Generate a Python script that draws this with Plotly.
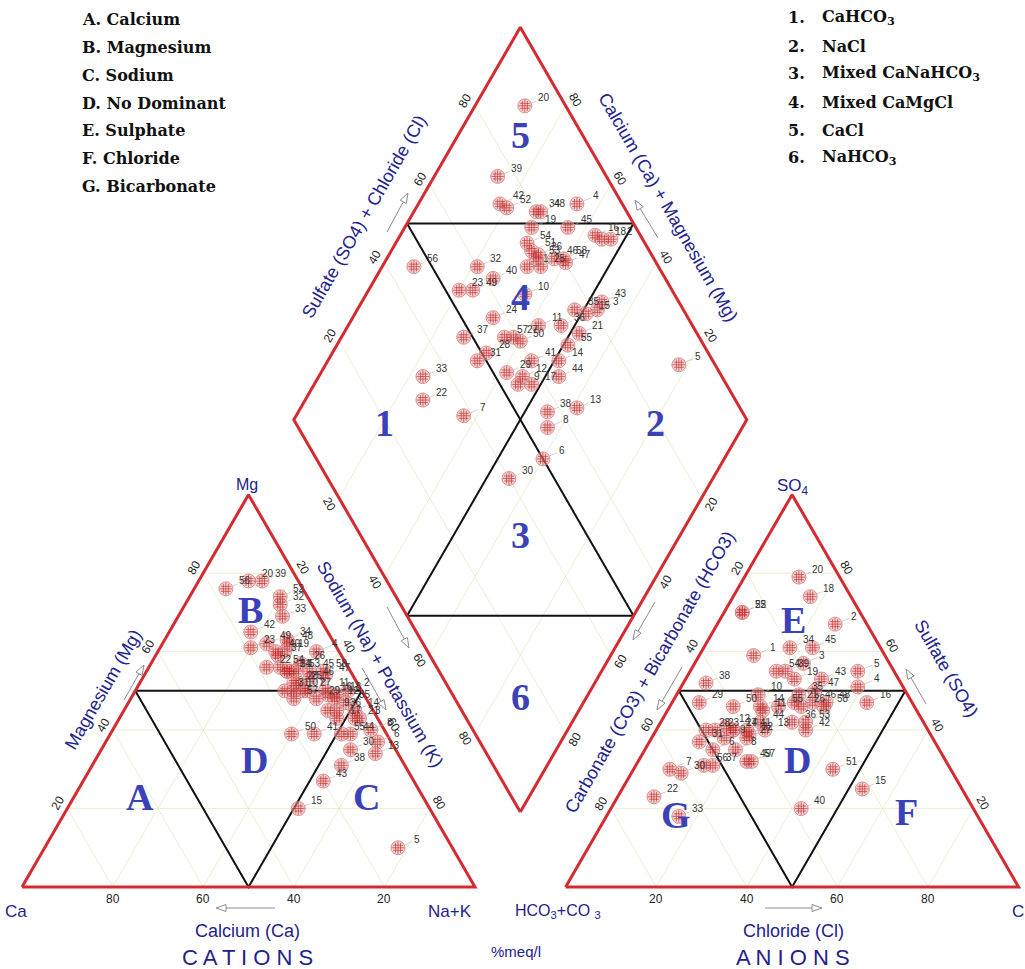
import numpy as np
import plotly.graph_objects as go

# ---------------------------------------------------------------- data (% meq/l)
sample_id = list(range(1, 59))

ca = [13, 3, 4, 5, 12, 3, 13, 3, 10, 15, 8, 7, 5, 4, 29, 8, 9, 6, 12, 11,
      5, 18, 19, 14, 13, 10, 12, 14, 11, 10, 17, 7, 8, 10, 5, 8, 14, 14, 8, 14,
      16, 17, 20, 8, 9, 10, 6, 10, 15, 21, 14, 6, 12, 15, 10, 17, 16, 6]
mg = [55, 50, 43, 60, 10, 37, 50, 40, 45, 50, 50, 48, 34, 45, 20, 49, 43, 49, 60, 78,
      43, 56, 61, 55, 52, 57, 50, 52, 48, 35, 50, 72, 69, 63, 47, 45, 59, 31, 78, 60,
      39, 65, 27, 39, 55, 53, 54, 62, 62, 39, 55, 74, 55, 56, 39, 76, 48, 55]
na_k = [32, 47, 53, 35, 78, 60, 37, 57, 45, 35, 42, 45, 61, 51, 51, 43, 48, 45, 28, 11,
        52, 26, 20, 31, 35, 33, 38, 34, 41, 55, 33, 21, 23, 27, 48, 47, 27, 55, 14, 26,
        45, 18, 53, 53, 36, 37, 40, 28, 23, 40, 31, 20, 33, 29, 51, 7, 36, 39]

hco3 = [29, 7, 19, 10, 8, 50, 62, 45, 46, 33, 34, 44, 36, 34, 22, 10, 43, 9, 23, 9,
        26, 69, 47, 43, 26, 25, 41, 49, 47, 60, 52, 40, 66, 20, 24, 29, 52, 43, 24, 38,
        40, 27, 17, 36, 15, 22, 20, 19, 44, 40, 26, 26, 26, 26, 30, 54, 43, 20]
so4 = [59, 67, 57, 51, 55, 35, 30, 35, 38, 49, 45, 41, 40, 46, 25, 47, 40, 74, 53, 79,
       47, 23, 40, 40, 70, 46, 38, 40, 47, 29, 37, 39, 18, 61, 49, 42, 31, 52, 55, 20,
       40, 40, 53, 42, 61, 47, 50, 47, 32, 46, 30, 70, 42, 55, 46, 31, 32, 46]
cl = [12, 26, 24, 39, 37, 15, 8, 20, 16, 18, 21, 15, 24, 20, 53, 43, 17, 17, 24, 12,
      27, 8, 13, 17, 4, 29, 21, 11, 6, 11, 11, 21, 16, 19, 27, 29, 17, 5, 21, 42,
      20, 33, 30, 22, 24, 31, 30, 34, 24, 14, 44, 4, 32, 19, 24, 15, 25, 34]

cation_legend = ["A. Calcium", "B. Magnesium", "C. Sodium", "D. No Dominant",
                 "E. Sulphate", "F. Chloride", "G. Bicarbonate"]
facies_no = ["1.", "2.", "3.", "4.", "5.", "6."]
facies_name = ["CaHCO<sub>3</sub>", "NaCl", "Mixed CaNaHCO<sub>3</sub>",
               "Mixed CaMgCl", "CaCl", "NaHCO<sub>3</sub>"]
tick_values = [20, 40, 60, 80]

# ---------------------------------------------------------------- geometry
W, H = 1025, 969
S = 453.0                 # pixels per unit triangle side
X0, Y0 = 22.0, 887.0      # pixel position of the Ca corner
R3 = np.sqrt(3) / 2
AX = 1.2                  # x of the HCO3 corner of the anion triangle
B = np.array([1.1, 0.1656])  # bottom corner of the diamond
U1 = np.array([-0.5, R3])
U2 = np.array([0.5, R3])

RED = "#d42a30"
NAVY = "#22228c"
LETTER = "#3b42b8"
GRID = "rgba(226,222,180,0.55)"
HATCH = "rgba(190,35,35,0.62)"


def frac(v):
    return np.asarray(v, dtype=float) / 100.0


def cation_xy(mg_, na_):
    m, n = frac(mg_), frac(na_)
    return n + m / 2, m * R3


def anion_xy(so4_, cl_):
    s, c = frac(so4_), frac(cl_)
    return AX + c + s / 2, s * R3


def diamond_xy(camg, so4cl):
    c, a = np.asarray(camg), np.asarray(so4cl)
    return B[0] + 0.5 * (a - c), B[1] + R3 * (a + c)


def pix(px, py):
    return (px - X0) / S, (Y0 - py) / S


def paper(px, py):
    return px / W, 1 - py / H


tot_c = np.asarray(ca) + np.asarray(mg) + np.asarray(na_k)
tot_a = np.asarray(hco3) + np.asarray(so4) + np.asarray(cl)
mg_p = np.asarray(mg) * 100 / tot_c
na_p = np.asarray(na_k) * 100 / tot_c
so4_p = np.asarray(so4) * 100 / tot_a
cl_p = np.asarray(cl) * 100 / tot_a

cx, cy = cation_xy(mg_p, na_p)
axx, ayy = anion_xy(so4_p, cl_p)
dx, dy = diamond_xy(1 - na_p / 100, (so4_p + cl_p) / 100)

fig = go.Figure()


def polyline(points_list, color, width):
    xs, ys = [], []
    for pts in points_list:
        for p in pts:
            xs.append(p[0]); ys.append(p[1])
        xs.append(None); ys.append(None)
    fig.add_trace(go.Scatter(x=xs, y=ys, mode="lines", hoverinfo="skip",
                             line=dict(color=color, width=width)))


# faint 20 % grid
grid = []
for f in [0.2, 0.4, 0.6, 0.8]:
    for ox in (0.0, AX):
        grid.append([(ox + f / 2, f * R3), (ox + 1 - f / 2, f * R3)])
        grid.append([(ox + f, 0), (ox + (1 + f) / 2, (1 - f) * R3)])
        grid.append([(ox + 1 - f, 0), (ox + (1 - f) / 2, (1 - f) * R3)])
    grid.append([tuple(B + f * U1), tuple(B + f * U1 + U2)])
    grid.append([tuple(B + f * U2), tuple(B + f * U2 + U1)])
polyline(grid, GRID, 1)

# inner subdivisions
inner = []
for ox in (0.0, AX):
    inner.append([(ox + 0.25, R3 / 2), (ox + 0.75, R3 / 2)])
    inner.append([(ox + 0.25, R3 / 2), (ox + 0.5, 0), (ox + 0.75, R3 / 2)])
mLT = B + U1 + 0.5 * U2
mTR = B + 0.5 * U1 + U2
mBL = B + 0.5 * U1
mBR = B + 0.5 * U2
inner += [[tuple(mLT), tuple(mTR)], [tuple(mBL), tuple(mBR)],
          [tuple(mLT), tuple(mBR)], [tuple(mTR), tuple(mBL)]]
polyline(inner, "#111111", 2)

# outer frames
frames = [
    [(0, 0), (1, 0), (0.5, R3), (0, 0)],
    [(AX, 0), (AX + 1, 0), (AX + 0.5, R3), (AX, 0)],
    [tuple(B), tuple(B + U1), tuple(B + U1 + U2), tuple(B + U2), tuple(B)],
]
polyline(frames, RED, 3)

# sample markers: pink disc with red cross-hatching
all_x = np.concatenate([cx, axx, dx])
all_y = np.concatenate([cy, ayy, dy])
fig.add_trace(go.Scatter(x=all_x, y=all_y, mode="markers", hoverinfo="skip",
                         marker=dict(symbol="circle", size=14,
                                     color="rgba(238,175,175,0.55)",
                                     line=dict(color="rgba(205,110,110,0.7)", width=1))))
fig.add_trace(go.Scatter(x=all_x, y=all_y, mode="markers", hoverinfo="skip",
                         marker=dict(symbol="hash-open", size=10, color=HATCH,
                                     line=dict(color=HATCH, width=1))))
fig.add_trace(go.Scatter(x=all_x, y=all_y, mode="markers", hoverinfo="skip",
                         marker=dict(symbol="cross-thin-open", size=9, color=HATCH,
                                     line=dict(color=HATCH, width=1))))

ann = []
shapes = []

# sample labels with leader lines
for xs, ys in ((cx, cy), (axx, ayy), (dx, dy)):
    for i, sid in enumerate(sample_id):
        ann.append(dict(x=xs[i], y=ys[i], text=str(sid), showarrow=True,
                        arrowhead=0, arrowwidth=0.6, arrowcolor="#b4b4b4",
                        ax=19, ay=-8, standoff=6,
                        font=dict(family="Liberation Sans", size=10, color="#333333")))

# tick labels along the edges
TICK_FONT = dict(family="Liberation Sans", size=12, color="#222222")


def tick(pt, val, normal, angle, d=11):
    ann.append(dict(x=pt[0], y=pt[1], text=str(int(val)), showarrow=False,
                    textangle=angle, font=TICK_FONT,
                    xshift=d * normal[0], yshift=d * normal[1]))


NL = (-R3, 0.5)
NR = (R3, 0.5)
for v in tick_values:
    f = v / 100
    tick((f, 0), 100 - v, (0, -1.1), 0)                         # Ca along base
    tick((f / 2, f * R3), v, NL, -60)                           # Mg
    tick(((1 + f) / 2, (1 - f) * R3), v, NR, 60)                # Na+K
    tick((AX + f, 0), v, (0, -1.1), 0)                          # Cl along base
    tick((AX + f / 2, f * R3), 100 - v, NL, -60)                # CO3+HCO3
    tick((AX + 1 - f / 2, f * R3), v, NR, 60)                   # SO4
    tick(B + U1 + f * U2, v, NL, -60)                           # SO4+Cl
    tick(B + f * U1 + U2, v, NR, 60)                            # Ca+Mg
    tick(B + f * U1, 100 - v, (-R3, -0.5), 60)                  # Na+K (diamond)
    tick(B + f * U2, 100 - v, (R3, -0.5), -60)                  # CO3+HCO3 (diamond)


def ptext(px, py, text, size, color, angle=0, family="Liberation Sans",
          xanchor="center", bold=False):
    x, y = paper(px, py)
    if bold:
        text = "<b>" + text + "</b>"
    ann.append(dict(x=x, y=y, xref="paper", yref="paper", text=text,
                    showarrow=False, textangle=angle, xanchor=xanchor,
                    yanchor="middle",
                    font=dict(family=family, size=size, color=color)))


# axis titles
ptext(103, 690, "Magnesium (Mg)", 18, NAVY, -60)
ptext(380, 664, "Sodium (Na) + Potassium (K)", 18, NAVY, 60)
ptext(650, 672, "Carbonate (CO3) + Bicarbonate (HCO3)", 18, NAVY, -60)
ptext(946, 668, "Sulfate (SO4)", 18, NAVY, 60)
ptext(364, 217, "Sulfate (SO4) + Chloride (Cl)", 18, NAVY, -60)
ptext(668, 207, "Calcium (Ca) + Magnesium (Mg)", 18, NAVY, 60)
ptext(247, 931, "Calcium (Ca)", 18, NAVY)
ptext(793, 931, "Chloride (Cl)", 18, NAVY)
ptext(247, 957, "C A T I O N S", 22, NAVY)
ptext(793, 957, "A N I O N S", 22, NAVY)
ptext(516, 951, "%meq/l", 15, NAVY)
ptext(16, 911, "Ca", 17, NAVY)
ptext(450, 911, "Na+K", 17, NAVY)
ptext(558, 911, "HCO<sub>3</sub>+CO <sub>3</sub>", 16, NAVY)
ptext(1010, 911, "Cl", 17, NAVY, xanchor="left")
ptext(247, 485, "Mg", 16, NAVY)
ptext(793, 487, "SO<sub>4</sub>", 17, NAVY)

# region letters
for px, py, t in [(140, 797, "A"), (250, 610, "B"), (366, 797, "C"), (254, 760, "D"),
                  (793, 620, "E"), (797, 760, "D"), (906, 812, "F"), (676, 815, "G"),
                  (384, 423, "1"), (655, 423, "2"), (520, 535, "3"), (520, 297, "4"),
                  (520, 135, "5"), (520, 697, "6")]:
    ptext(px, py, t, 38, LETTER, family="Liberation Serif", bold=True)

# legends
for i, t in enumerate(cation_legend):
    ptext(80, 20 + 27.7 * i, t, 16, "#111111", family="DejaVu Serif",
          xanchor="left", bold=True)
for i, (n, t) in enumerate(zip(facies_no, facies_name)):
    ptext(786, 18 + 28 * i, n, 16, "#111111", family="DejaVu Serif",
          xanchor="left", bold=True)
    ptext(820, 18 + 28 * i, t, 16, "#111111", family="DejaVu Serif",
          xanchor="left", bold=True)


# direction arrows with open heads
def arrow(p0, p1, color="#8c8c8c"):
    x0, y0 = pix(*p0)
    x1, y1 = pix(*p1)
    d = np.array([x1 - x0, y1 - y0])
    d /= np.linalg.norm(d)
    n = np.array([-d[1], d[0]])
    L, w = 10 / S, 3.5 / S
    base = np.array([x1, y1]) - L * d
    a, b = base + w * n, base - w * n
    shapes.append(dict(type="line", xref="x", yref="y", x0=x0, y0=y0,
                       x1=base[0], y1=base[1], line=dict(color=color, width=1)))
    shapes.append(dict(type="path", xref="x", yref="y",
                       path=f"M{x1},{y1} L{a[0]},{a[1]} L{b[0]},{b[1]} Z",
                       fillcolor="white", line=dict(color=color, width=1)))


arrow((275, 908), (216, 908))
arrow((765, 908), (822, 908))
arrow((124, 700), (144, 665))
arrow((387, 607), (409, 648))
arrow((362, 668), (386, 710))
arrow((655, 602), (633, 640))
arrow((682, 667), (657, 710))
arrow((387, 232), (408, 193))
arrow((658, 238), (635, 200))
arrow((926, 704), (906, 669))

fig.update_layout(
    width=W, height=H, autosize=False,
    margin=dict(l=0, r=0, t=0, b=0),
    paper_bgcolor="white", plot_bgcolor="white",
    showlegend=False,
    xaxis=dict(range=[-X0 / S, (W - X0) / S], visible=False, fixedrange=True),
    yaxis=dict(range=[(Y0 - H) / S, Y0 / S], visible=False, fixedrange=True),
    annotations=ann, shapes=shapes,
)

fig.write_html("out.html")
